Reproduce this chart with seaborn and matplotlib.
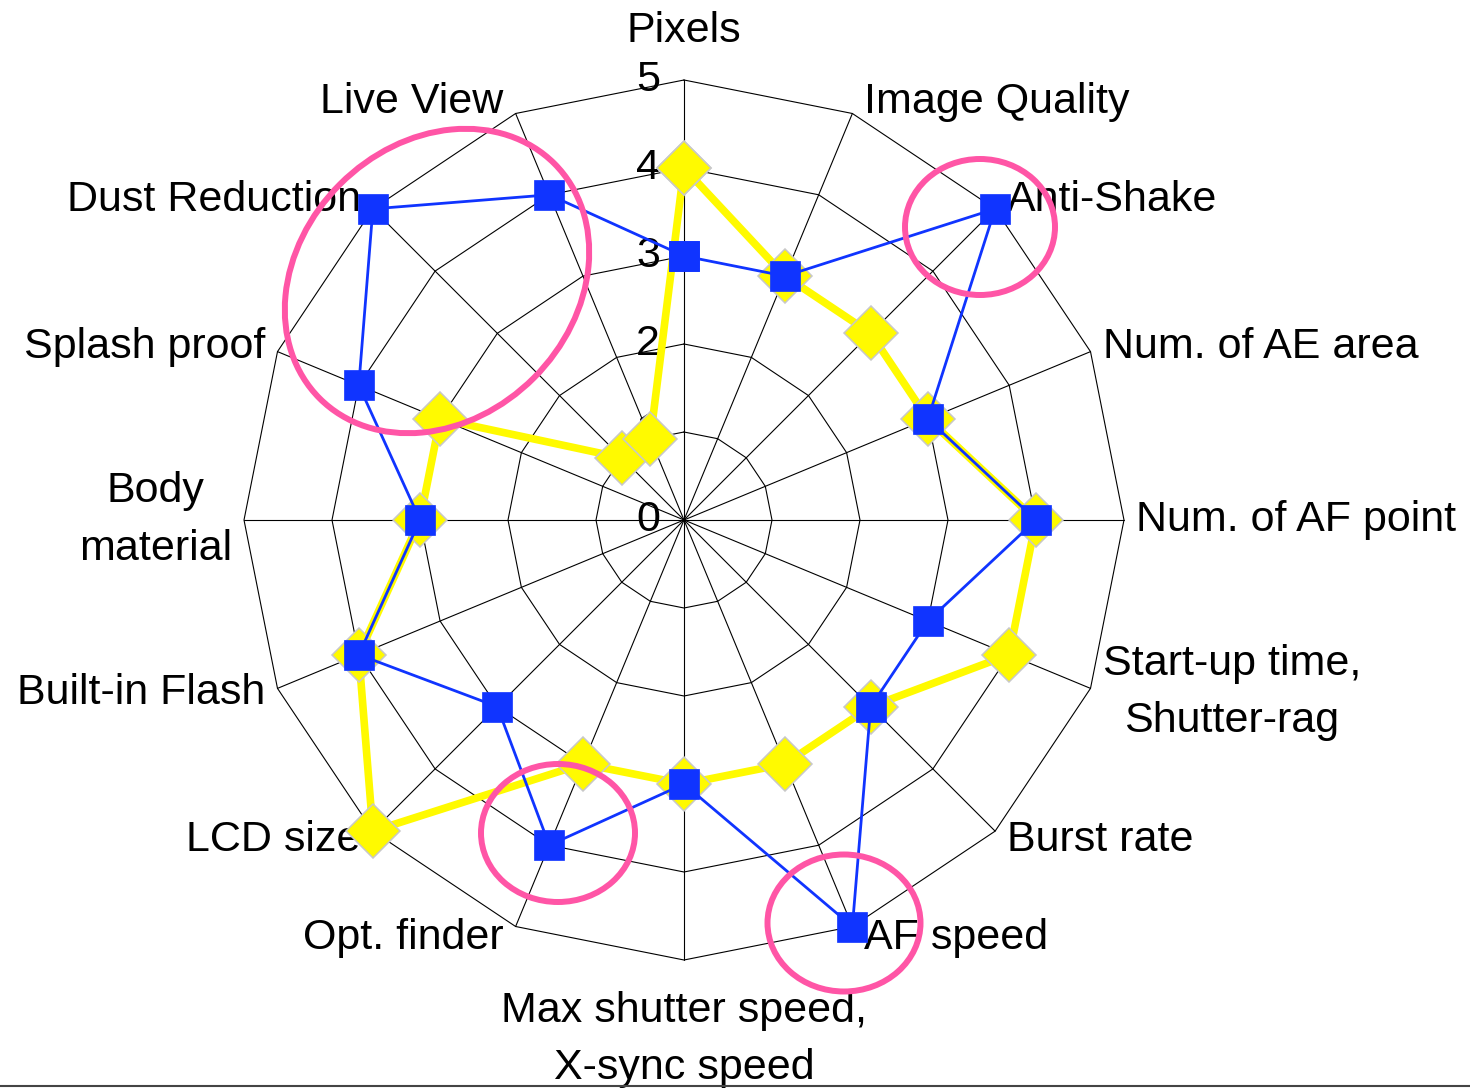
import numpy as np
import pandas as pd
import seaborn as sns
import matplotlib.pyplot as plt
from matplotlib.patches import Ellipse
from matplotlib.lines import Line2D

# Categories, clockwise from top
categories = [
    "Pixels", "Image Quality", "Anti-Shake", "Num. of AE area",
    "Num. of AF point", "Start-up time,\nShutter-rag", "Burst rate", "AF speed",
    "Max shutter speed,\nX-sync speed", "Opt. finder", "LCD size", "Built-in Flash",
    "Body\nmaterial", "Splash proof", "Dust Reduction", "Live View",
]
yellow_scores = [4, 3, 3, 3, 4, 4, 3, 3, 3, 3, 5, 4, 3, 3, 1, 1]
blue_scores = [3, 3, 5, 3, 4, 3, 3, 5, 3, 4, 3, 4, 3, 4, 5, 4]
rings = [1, 2, 3, 4, 5]
ring_labels = ["0", "1", "2", "3", "4", "5"]

sns.set_theme(style="white")
plt.rcParams['font.family'] = ['Liberation Sans', 'DejaVu Sans']
plt.rcParams['text.color'] = 'black'

W, H = 1470, 1089
fig = plt.figure(figsize=(W / 100, H / 100), dpi=100)
ax = fig.add_axes([244 / W, (H - 960) / H, 880 / W, 880 / H], projection='polar')
ax.set_theta_zero_location('N')
ax.set_theta_direction(-1)

n = len(categories)
theta = np.linspace(0, 2 * np.pi, n, endpoint=False)
theta_closed = np.append(theta, 2 * np.pi)

# polygon grid
for r in rings:
    ax.plot(theta_closed, [r] * (n + 1), color='black', lw=0.8, zorder=1, clip_on=False)
for t in theta:
    ax.plot([t, t], [0, 5], color='black', lw=0.8, zorder=1, clip_on=False)

df = pd.DataFrame({
    'theta': theta_closed,
    'yellow': yellow_scores + yellow_scores[:1],
    'blue': blue_scores + blue_scores[:1],
})

sns.lineplot(data=df, x='theta', y='yellow', ax=ax, sort=False, estimator=None,
             color='#FFFA00', linewidth=5.5, marker='D', markersize=27,
             markeredgecolor='#C8C8C8', markeredgewidth=1.1, zorder=3, clip_on=False)
sns.lineplot(data=df, x='theta', y='blue', ax=ax, sort=False, estimator=None,
             color='#1034FF', linewidth=2, marker='s', markersize=22,
             markeredgecolor='#1034FF', markeredgewidth=0.5, zorder=4, clip_on=False)

ax.set_ylim(0, 5)
ax.grid(False)
ax.spines['polar'].set_visible(False)
ax.set_xticks([])
ax.set_yticks([])
ax.set_xlabel('')
ax.set_ylabel('')
ax.patch.set_alpha(0)

# radial labels along top spoke
for i, lab in enumerate(ring_labels):
    ax.annotate(lab, xy=(0, i), xytext=(-24, 0), textcoords='offset pixels',
                ha='right', va='center', fontsize=31, zorder=1)

# category labels
for t, lab in zip(theta, categories):
    s, c = np.sin(t), np.cos(t)
    if abs(s) < 0.1:
        ha = 'center'
        va = 'bottom' if c > 0 else 'top'
        dx, dy = 0, (29 if c > 0 else -31)
    else:
        ha = 'left' if s > 0 else 'right'
        va = 'center'
        dx, dy = 12 * np.sign(s), 12 * c
    ax.annotate(lab, xy=(t, 5), xytext=(dx, dy), textcoords='offset pixels',
                ha=ha, va=va, ma='center', fontsize=31, linespacing=1.55, zorder=1)

# overlay for highlight rings and bottom rule
ov = fig.add_axes([0, 0, 1, 1])
ov.set_xlim(0, W)
ov.set_ylim(H, 0)
ov.axis('off')
ov.patch.set_alpha(0)
pink = '#FF55A6'
ov.add_patch(Ellipse((437, 281), 332, 274, angle=-45, fill=False, ec=pink, lw=4.3))
ov.add_patch(Ellipse((980, 227), 150, 136, fill=False, ec=pink, lw=4.3))
ov.add_patch(Ellipse((558, 833), 154, 138, fill=False, ec=pink, lw=4.3))
ov.add_patch(Ellipse((844, 923), 153, 137, fill=False, ec=pink, lw=4.3))
ov.add_line(Line2D([0, W], [1086, 1086], color='#444444', lw=1.5))

fig.savefig('out.png', dpi=100)
